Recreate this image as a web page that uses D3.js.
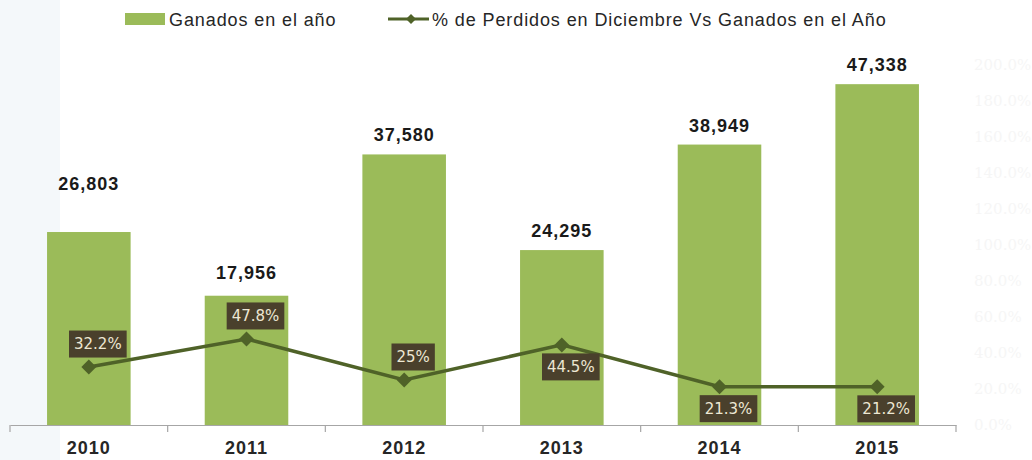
<!DOCTYPE html>
<html>
<head>
<meta charset="utf-8">
<script src="https://cdn.jsdelivr.net/npm/d3@7"></script>
<style>
  html, body { margin: 0; padding: 0; background: #ffffff; }
  svg { display: block; }
</style>
</head>
<body>
<svg id="chart" width="1032" height="460"></svg>
<script>
const years = ["2010", "2011", "2012", "2013", "2014", "2015"];
const ganados = [26803, 17956, 37580, 24295, 38949, 47338];
const perdidosPct = [0.322, 0.478, 0.25, 0.445, 0.213, 0.212];
const pctLabels = ["32.2%", "47.8%", "25%", "44.5%", "21.3%", "21.2%"];
const rightTicks = [0, 0.2, 0.4, 0.6, 0.8, 1.0, 1.2, 1.4, 1.6, 1.8, 2.0];
const legendLabels = ["Ganados en el año", "% de Perdidos en Diciembre Vs Ganados en el Año"];

const svg = d3.select("#chart");
const W = 1032, H = 460;
const barColor = "#9bbb59", lineColor = "#4f6228";
const sans = "'Liberation Sans', Arial, sans-serif";

// left pale panel
svg.append("rect").attr("x", 0).attr("y", 0).attr("width", 60).attr("height", H).attr("fill", "#f4f8fa");

const x = d3.scaleBand().domain(years).range([10, 956]).paddingInner(0.47).paddingOuter(0.235);
const y = d3.scaleLinear().domain([0, 50000]).range([425, 65]);
const y2 = d3.scaleLinear().domain([0, 2]).range([425, 65]);

// right axis (very faint)
const rAxis = svg.append("g").attr("transform", "translate(968,0)")
  .call(d3.axisRight(y2).tickValues(rightTicks).tickFormat(d3.format(".1%")).tickSize(0).tickPadding(6));
rAxis.select(".domain").remove();
rAxis.attr("font-family", "'DejaVu Serif', serif").attr("font-size", 15);
rAxis.selectAll("text").attr("fill", "#f6f6f6");

// bars
svg.append("g").selectAll("rect").data(years).join("rect")
  .attr("x", d => x(d))
  .attr("y", (d, i) => y(ganados[i]))
  .attr("width", x.bandwidth())
  .attr("height", (d, i) => y(0) - y(ganados[i]))
  .attr("fill", barColor);

// x axis
const xAxis = svg.append("g").attr("transform", "translate(0,425)")
  .call(d3.axisBottom(x).tickSize(0).tickPadding(16));
xAxis.select(".domain").attr("stroke", "#a6a6a6").attr("stroke-width", 1.2);
xAxis.attr("font-family", sans).attr("font-size", 18);
xAxis.selectAll("text").attr("fill", "#262626")
  .style("font-weight", "bold").style("letter-spacing", "1px");
// tick marks between categories
const step = x.step();
const bounds = d3.range(years.length + 1).map(i => x(years[0]) - x.paddingOuter() * step + i * step);
svg.append("g").selectAll("line").data(bounds).join("line")
  .attr("x1", d => d).attr("x2", d => d).attr("y1", 425).attr("y2", 432)
  .attr("stroke", "#a6a6a6").attr("stroke-width", 1.2);

// bar value labels
const fmt = d3.format(",");
const extraLift = { "2010": 29, "2011": 4 };
svg.append("g").selectAll("text").data(years).join("text")
  .attr("x", d => x(d) + x.bandwidth() / 2)
  .attr("y", (d, i) => y(ganados[i]) - 13 - (extraLift[d] || 0))
  .attr("text-anchor", "middle")
  .attr("fill", "#1a1a1a")
  .style("font-family", sans)
  .style("font-size", "18px").style("font-weight", "bold").style("letter-spacing", "1px")
  .text((d, i) => fmt(ganados[i]));

// line
const cx = d => x(d) + x.bandwidth() / 2;
const line = d3.line().x((d, i) => cx(years[i])).y(d => y2(d));
svg.append("path").datum(perdidosPct).attr("d", line)
  .attr("fill", "none").attr("stroke", lineColor).attr("stroke-width", 3.5);
svg.append("g").selectAll("path").data(perdidosPct).join("path")
  .attr("d", d3.symbol().type(d3.symbolSquare).size(112))
  .attr("transform", (d, i) => `translate(${cx(years[i])},${y2(d)}) rotate(45)`)
  .attr("fill", lineColor);

// pct labels
const below = [false, false, false, true, true, true];
const lg = svg.append("g");
perdidosPct.forEach((v, i) => {
  const px = cx(years[i]) + 9;
  const py = y2(v) + (below[i] ? 22 : -23);
  const g = lg.append("g").attr("transform", `translate(${px},${py})`);
  const t = g.append("text").attr("text-anchor", "middle").attr("dy", "0.36em")
    .attr("fill", "#ede7d3")
    .style("font-family", "'DejaVu Sans', sans-serif").style("font-size", "15px")
    .text(pctLabels[i]);
  const bb = t.node().getBBox();
  g.insert("rect", "text").attr("x", -bb.width / 2 - 5).attr("y", -13.5)
    .attr("width", bb.width + 10).attr("height", 27).attr("fill", "#4a402c");
});

// legend
const leg = svg.append("g").style("font-family", sans).style("font-size", "18px").style("letter-spacing", "0.9px");
leg.append("rect").attr("x", 125).attr("y", 13).attr("width", 40).attr("height", 12).attr("fill", barColor);
leg.append("text").attr("x", 169).attr("y", 26).attr("fill", "#262626").text(legendLabels[0]);
leg.append("line").attr("x1", 388).attr("x2", 429).attr("y1", 19).attr("y2", 19).attr("stroke", lineColor).attr("stroke-width", 3);
leg.append("path").attr("d", d3.symbol().type(d3.symbolSquare).size(50)).attr("transform", "translate(411,19) rotate(45)").attr("fill", lineColor);
leg.append("text").attr("x", 432).attr("y", 26).attr("fill", "#262626").text(legendLabels[1]);
</script>
</body>
</html>
